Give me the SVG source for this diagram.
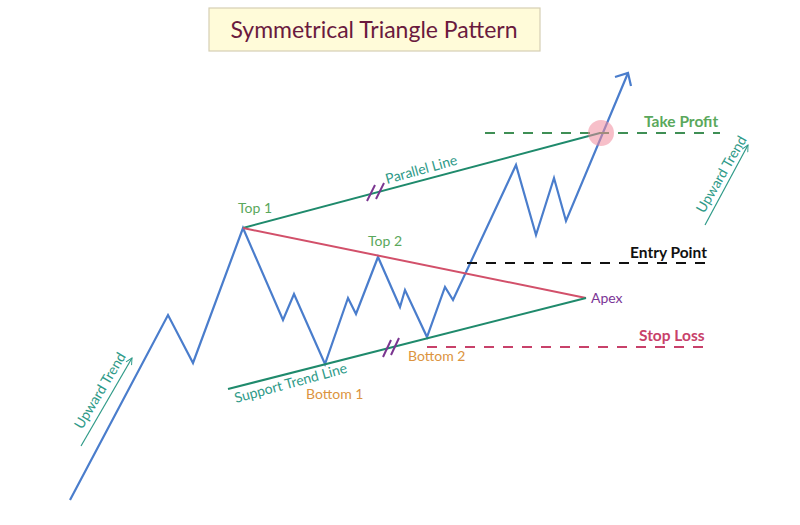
<svg xmlns="http://www.w3.org/2000/svg" width="800" height="525" viewBox="0 0 800 525">
<style>
  text { font-family: Lato, "Open Sans", "Liberation Sans", sans-serif; }
  .lbl { font-size: 14px; }
  .bold { font-size: 15.5px; font-weight: bold; }
  .price { fill: none; stroke: #4a7dcc; stroke-width: 2.2; stroke-linejoin: miter; }
  .trend { fill: none; stroke: #1f8a6c; stroke-width: 2; }
  .res { fill: none; stroke: #d2506a; stroke-width: 2; }
  .slash { stroke: #7a3590; stroke-width: 2; }
  .dash { fill: none; stroke-width: 2; stroke-dasharray: 10 9; }
  .teal { fill: #2e9a88; }
</style>
<defs>
  <marker id="openArrow" viewBox="0 0 10 10" refX="9" refY="5" markerWidth="8" markerHeight="8" orient="auto" markerUnits="userSpaceOnUse">
    <path d="M1,1 L9,5 L1,9" fill="none" stroke="#2e9a88" stroke-width="1.2"/>
  </marker>
</defs>
<rect width="800" height="525" fill="#ffffff"/>

<g id="title">
  <rect x="209" y="8" width="331" height="43" fill="#fffbd9" stroke="#d6cfb4" stroke-width="1.2"/>
  <text x="374" y="38" text-anchor="middle" font-size="23" fill="#6a1a3e">Symmetrical Triangle Pattern</text>
</g>

<g id="connectors">
  <polyline class="price" points="70,500 168,315 193,363 243,228 283,320 294,294 325,364 348,298 356,314 378,257 400,307 405,290 427,337 445,287 453,300 516,165 536,235 554,178 566,221 628,73"/>
  <path d="M615,77 L628,73 L631,86" fill="none" stroke="#4a7dcc" stroke-width="2.2"/>
  <line class="trend" x1="243" y1="228" x2="600" y2="133"/>
  <line class="res" x1="243" y1="228" x2="586" y2="298"/>
  <line class="trend" x1="228" y1="389" x2="586" y2="298"/>
  <line class="dash" x1="485" y1="133" x2="720" y2="133" stroke="#3f8f55"/>
  <line class="dash" x1="467" y1="263" x2="712" y2="263" stroke="#111111"/>
  <line class="dash" x1="427" y1="347" x2="708" y2="347" stroke="#c8416a"/>
  <line class="slash" x1="367" y1="201" x2="375" y2="185"/>
  <line class="slash" x1="376" y1="199" x2="384" y2="183"/>
  <line class="slash" x1="383" y1="357" x2="391" y2="340"/>
  <line class="slash" x1="391" y1="355" x2="399" y2="338"/>
  <line x1="81" y1="446" x2="132" y2="358" stroke="#2e9a88" stroke-width="1.2" marker-end="url(#openArrow)"/>
  <line x1="705" y1="225" x2="748" y2="145" stroke="#2e9a88" stroke-width="1.2" marker-end="url(#openArrow)"/>
</g>

<g id="target">
  <circle cx="601" cy="133" r="13" fill="#f08a9c" fill-opacity="0.55"/>
</g>

<g id="labels">
  <text class="lbl" x="238" y="213" fill="#5aa85c">Top 1</text>
  <text class="lbl" x="368" y="246" fill="#5aa85c">Top 2</text>
  <text class="lbl" x="306" y="399" fill="#dc9440">Bottom 1</text>
  <text class="lbl" x="408" y="361" fill="#dc9440">Bottom 2</text>
  <text class="lbl" x="591" y="303" fill="#7b3596">Apex</text>
  <text class="bold" x="644" y="127" fill="#5aa85c">Take Profit</text>
  <text class="bold" x="630" y="258" fill="#111111">Entry Point</text>
  <text class="bold" x="639" y="341" fill="#c8416a">Stop Loss</text>
  <text class="lbl teal" font-size="13" transform="translate(387,184) rotate(-15.5)">Parallel Line</text>
  <text class="lbl teal" font-size="13" transform="translate(236,403) rotate(-15.3)">Support Trend Line</text>
  <text class="lbl teal" font-size="12" transform="translate(82,430) rotate(-59)">Upward Trend</text>
  <text class="lbl teal" font-size="12" transform="translate(704,214) rotate(-60)">Upward Trend</text>
</g>
</svg>
